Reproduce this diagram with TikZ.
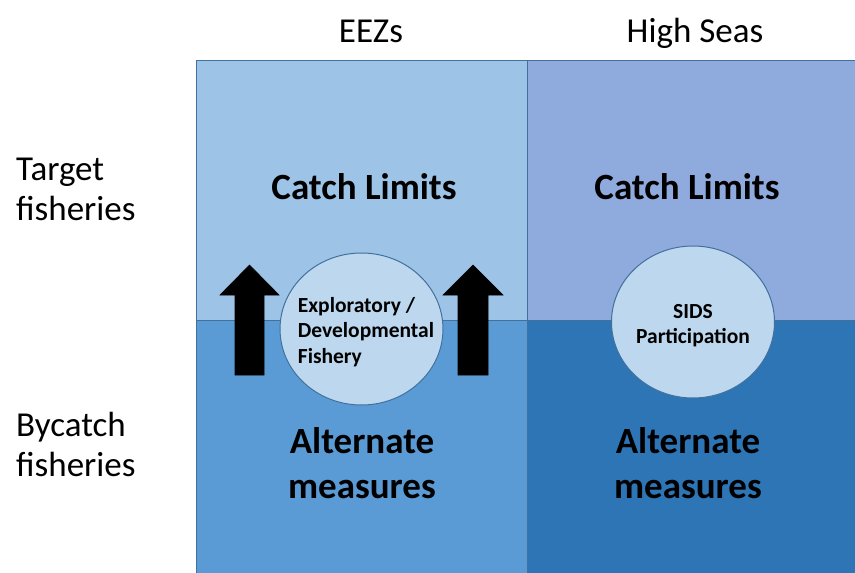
\documentclass[tikz,border=0pt]{standalone}
\usepackage{fontspec}
\setmainfont{Carlito}
\usetikzlibrary{shapes.geometric}
\definecolor{cellTL}{HTML}{9DC3E6}
\definecolor{cellTR}{HTML}{8FAADC}
\definecolor{cellBL}{HTML}{5B9BD5}
\definecolor{cellBR}{HTML}{2E75B6}
\definecolor{bubble}{HTML}{BDD7EE}
\definecolor{edge}{HTML}{41719C}
\begin{document}
\begin{tikzpicture}[x=1pt,y=-1pt,
  cell/.style={draw=edge,line width=1pt},
  header/.style={inner sep=0pt,font=\fontsize{35}{40}\selectfont},
  rowlabel/.style={inner sep=0pt,align=left,anchor=west,font=\fontsize{35}{40}\selectfont},
  measure/.style={inner sep=0pt,align=center,font=\bfseries\fontsize{37}{45}\selectfont},
  bubblenode/.style={ellipse,draw=edge,line width=1pt,fill=bubble,inner sep=0pt,
    minimum width=163pt,minimum height=152pt},
  bubbletext/.style={inner sep=0pt,font=\bfseries\fontsize{21.5}{25.5}\selectfont},
  uparrow/.style={fill=black,draw=black,line width=0.6pt,line join=miter}]
\useasboundingbox (0,0) rectangle (855,573);
\begin{scope}
\clip (0,0) rectangle (855,573);
% quadrant cells
\fill[cellTL] (196,60) rectangle (527,320);
\fill[cellTR] (527,60) rectangle (870,320);
\fill[cellBL] (196,320) rectangle (527,590);
\fill[cellBR] (527,320) rectangle (870,590);
\draw[cell] (196,590) -- (196,60) -- (870,60);
\draw[cell] (527,60) -- (527,590);
\draw[cell] (196,320) -- (870,320);
\end{scope}
% column headers
\node[header,anchor=base] (eez) at (371,42) {EEZs};
\node[header,anchor=base] (high) at (695,42) {High Seas};
% row labels
\node[rowlabel] (target) at (16,189) {Target\\fisheries};
\node[rowlabel] (bycatch) at (16,444) {Bycatch\\fisheries};
% cell texts
\node[measure,anchor=base] (catchL) at (364,199) {Catch Limits};
\node[measure,anchor=base] (catchR) at (687,199) {Catch Limits};
\node[measure] (altL) at (362,463) {Alternate\\measures};
\node[measure] (altR) at (688,463) {Alternate\\measures};
% upward arrows
\draw[uparrow] (235,375) -- (235,295) -- (220,295) -- (249.5,265) -- (279,295) -- (264,295) -- (264,375) -- cycle;
\draw[uparrow] (458,375) -- (458,295) -- (443,295) -- (473,265) -- (503,295) -- (488,295) -- (488,375) -- cycle;
% bubbles and their captions
\node[bubblenode] (explore) at (361.5,329) {};
\node[bubbletext,align=left] (exploretext) at ([xshift=4.5pt,yshift=-3pt]explore.center) {Exploratory /\\Developmental\\Fishery};
\node[bubblenode] (sids) at (693,322) {};
\node[bubbletext,align=center] (sidstext) at ([yshift=-3.5pt]sids.center) {SIDS\\Participation};
\end{tikzpicture}
\end{document}
